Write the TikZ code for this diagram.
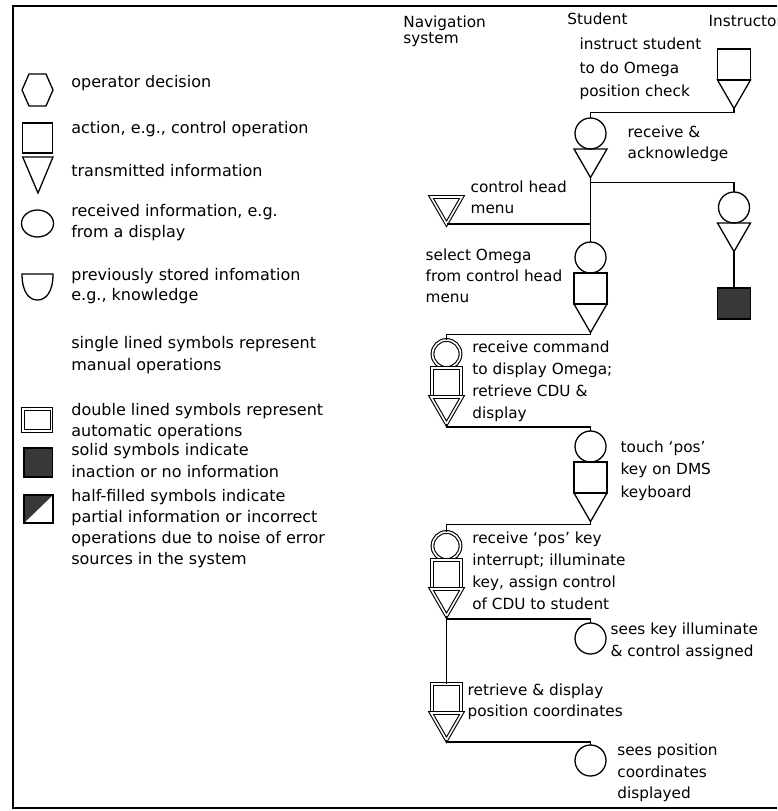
\documentclass[tikz,border=0pt]{standalone}
\usepackage{fontspec}
\setmainfont{DejaVu Sans}
\usetikzlibrary{shapes.geometric}
\definecolor{inkfill}{gray}{0.22}
% fixed-height strut so that a text node's first baseline sits 15pt below its top
\newcommand\lnstrut{\rule{0pt}{15pt}}
\begin{document}
\begin{tikzpicture}[x=1pt,y=-1pt,line width=1.3pt,
  sym/.style={draw, inner sep=0pt, outer sep=0pt},
  circ/.style={sym, circle, minimum size=31pt},
  sq/.style={sym, rectangle, minimum width=33pt, minimum height=31pt},
  tri/.style={sym, regular polygon, regular polygon sides=3,
              shape border rotate=180, minimum size=38.1pt},
  autop/.style={double, double distance=1.6pt, line width=1.1pt},
  acirc/.style={circ, autop, minimum size=28pt},
  asq/.style={sq, autop, minimum width=29pt, minimum height=29pt},
  atri/.style={tri, autop, minimum size=35.8pt},
  noinfo/.style={fill=inkfill},
  txt/.style={anchor=north west, inner sep=0pt, yshift=15pt, align=left,
              font=\fontsize{15.3}{#1}\selectfont},
  txt/.default=22,
  ltxt/.style={txt=#1, font=\fontsize{16}{#1}\selectfont},
  wire/.style={line width=1.3pt}]
\useasboundingbox (0,0) rectangle (777,811);

% outer frame (open on the right)
\draw[line width=1.7pt] (777,6) -- (13,6) -- (13,808) -- (777,808);

% ---------- legend symbols ----------
\draw (22,90) -- (29,74) -- (46,74) -- (53,90) -- (46,106) -- (29,106) -- cycle;
\draw (22.7,123) rectangle (52.7,153);
\draw (22.7,157) -- (53,157) -- (38,193) -- cycle;
\draw (37.5,223.5) ellipse [x radius=16, y radius=13.5];
\draw (22,274) -- (53,274) .. controls (53,292) and (46,300) .. (37.5,300)
      .. controls (29,300) and (22,292) .. (22,274) -- cycle;
\draw[double, double distance=1.6pt, line width=1.1pt] (23,409) rectangle (51.5,431);
\draw[fill=inkfill] (24,448) rectangle (52.7,477);
\fill[inkfill] (24,495) -- (53,495) -- (24,523) -- cycle;
\draw (24,495) rectangle (53,523);

% ---------- legend texts ----------
\node[ltxt=20] (lg1) at (70.7,87) {\lnstrut operator decision};
\node[ltxt=20] (lg2) at (70.7,133) {\lnstrut action, e.g., control operation};
\node[ltxt=20] (lg3) at (70.7,176) {\lnstrut transmitted information};
\node[ltxt=20.5] (lg4) at (70.7,216) {\lnstrut received information, e.g.\\from a display};
\node[ltxt=20.5] (lg5) at (70.7,279.5) {\lnstrut previously stored infomation\\e.g., knowledge};
\node[ltxt=22] (lg6) at (70.7,348) {\lnstrut single lined symbols represent\\manual operations};
\node[ltxt=20.5] (lg7) at (70.7,415) {\lnstrut double lined symbols represent\\automatic operations};
\node[ltxt=21.5] (lg8) at (70.7,455) {\lnstrut solid symbols indicate\\inaction or no information};
\node[ltxt=21.2] (lg9) at (70.7,500.5) {\lnstrut half-filled symbols indicate\\partial information or incorrect\\operations due to noise of error\\sources in the system};

% ---------- column headings ----------
\node[txt=16] (hnav) at (402.7,27) {\lnstrut Navigation\\system};
\node[txt] (hstu) at (566.7,24) {\lnstrut Student};
\node[txt] (hins) at (708,26) {\lnstrut Instructor};

% ---------- instructor column ----------
\node[sq, anchor=north] (i1s) at (734,49) {};
\node[tri, anchor=north] (i1t) at (i1s.south) {};
\node[circ, anchor=north] (i2c) at (734,192) {};
\node[tri, anchor=north] (i2t) at (i2c.south) {};
\node[sq, noinfo, anchor=north] (i3s) at (734,288) {};

% ---------- student column ----------
\node[circ, anchor=north] (s1c) at (590.5,118) {};
\node[tri, anchor=north] (s1t) at (s1c.south) {};
\node[circ, anchor=north] (s2c) at (590.5,242) {};
\node[sq, anchor=north] (s2s) at (s2c.south) {};
\node[tri, anchor=north] (s2t) at (s2s.south) {};
\node[circ, anchor=north] (s3c) at (590.5,431) {};
\node[sq, anchor=north] (s3s) at (s3c.south) {};
\node[tri, anchor=north] (s3t) at (s3s.south) {};
\node[circ, anchor=north] (s4c) at (590.5,623) {};
\node[circ, anchor=north] (s5c) at (590.5,745) {};

% ---------- navigation system column ----------
\node[atri, anchor=north] (n1t) at (446.5,197) {};
\node[acirc, anchor=north] (n2c) at (446.5,340) {};
\node[asq, anchor=north] (n2s) at (n2c.south) {};
\node[atri, anchor=north] (n2t) at (n2s.south) {};
\node[acirc, anchor=north] (n3c) at (446.5,532) {};
\node[asq, anchor=north] (n3s) at (n3c.south) {};
\node[atri, anchor=north] (n3t) at (n3s.south) {};
\node[asq, anchor=north] (n4s) at (446.5,684) {};
\node[atri, anchor=north] (n4t) at (n4s.south) {};

% ---------- connectors ----------
\draw[wire] (i1t.south) -- ++(0,4) -| (s1c.north);
\draw[wire] (s1t.south) -- (s2c.north);
\draw[wire] (s1t.south) -- ++(0,5) -| (i2c.north);
\draw[wire] (n1t.south) -- (n1t.south -| s1t.south);
\draw[wire] (i2t.south) -- (i3s.north);
\draw[wire] (s2t.south) -- ++(0,2) -| (n2c.north);
\draw[wire] (n2t.south) -- ++(0,3) -| (s3c.north);
\draw[wire] (s3t.south) -- ++(0,3) -| (n3c.north);
\draw[wire] (n3t.south) -- (n4s.north);
\draw[wire] (n3t.south) -- ++(0,3) -| (s4c.north);
\draw[wire] (n4t.south) -- ++(0,2) -| (s5c.north);

% ---------- step descriptions ----------
\node[txt=23.5] (d1) at (579,49) {\lnstrut instruct student\\to do Omega\\position check};
\node[txt=21.5] (d2) at (627,136.7) {\lnstrut receive \&\\acknowledge};
\node[txt=21.5] (d3) at (470,191.5) {\lnstrut control head\\menu};
\node[txt=21] (d4) at (425,260) {\lnstrut select Omega\\from control head\\menu};
\node[txt=22] (d5) at (471.7,352) {\lnstrut receive command\\to display Omega;\\retrieve CDU \&\\display};
\node[txt=22.5] (d6) at (620,451.5) {\lnstrut touch `pos'\\key on DMS\\keyboard};
\node[txt=22.2] (d7) at (471.7,542.5) {\lnstrut receive `pos' key\\interrupt; illuminate\\key, assign control\\of CDU to student};
\node[txt=21.7] (d8) at (610,634) {\lnstrut sees key illuminate\\\& control assigned};
\node[txt=21.7] (d9) at (467,694.5) {\lnstrut retrieve \& display\\position coordinates};
\node[txt=21.5] (d10) at (616.7,755) {\lnstrut sees position\\coordinates\\displayed};
\end{tikzpicture}
\end{document}
